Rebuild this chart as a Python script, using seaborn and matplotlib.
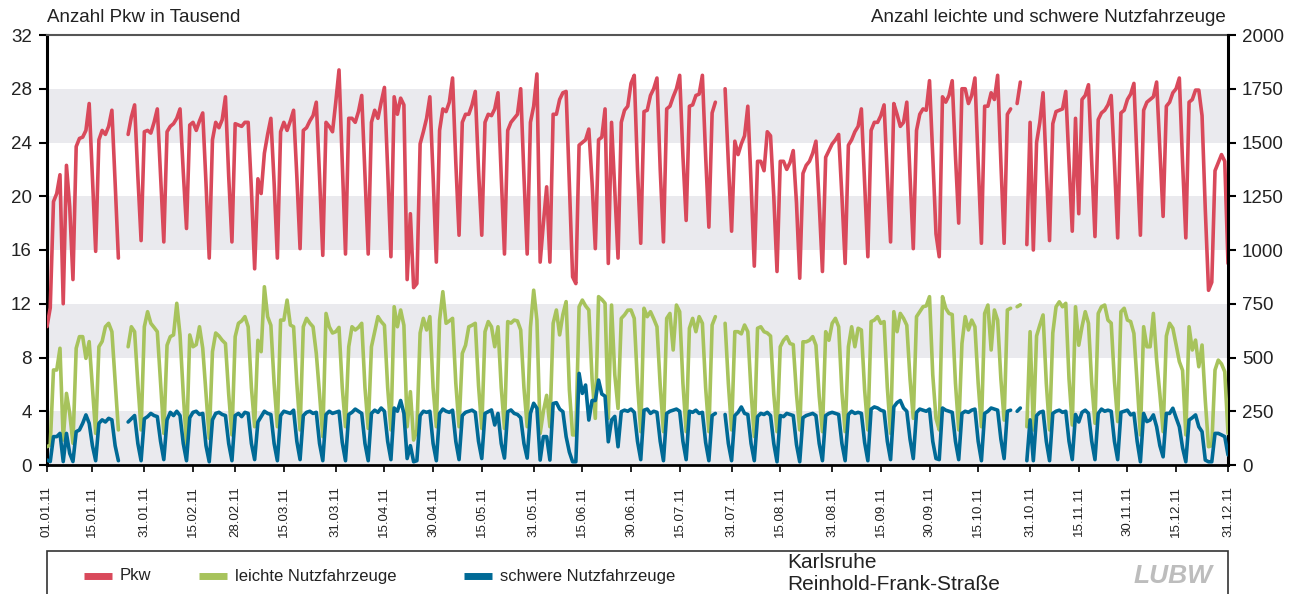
import numpy as np
import pandas as pd
import matplotlib
matplotlib.use("Agg")
import matplotlib.pyplot as plt
import seaborn as sns
from matplotlib.lines import Line2D
from matplotlib.patches import Rectangle

nan = np.nan

# ---------------- data (daily values 2011, weeks Mon..Sun) ----------------
start_date = "2011-01-01"

# Pkw in Tausend (left axis)
pkw = [
    10.3, 11.7,
    19.6, 20.2, 21.6, 12.0, 22.3, 19.2, 13.8,
    23.7, 24.3, 24.4, 24.9, 26.9, 21.4, 15.9,
    24.2, 24.9, 24.6, 25.2, 26.4, 21.0, 15.4,
    nan, nan, 24.6, 25.9, 26.8, 21.5, 16.7,
    24.8, 24.9, 24.7, 25.5, 26.5, 21.5, 16.6,
    24.8, 25.2, 25.4, 25.8, 26.5, 21.8, 17.6,
    25.3, 25.5, 24.9, 25.6, 26.2, 21.0, 15.4,
    24.2, 25.5, 25.1, 25.7, 27.4, 21.5, 16.6,
    25.4, 25.3, 25.2, 25.5, 25.5, 20.5, 14.6,
    21.3, 20.2, 23.2, 24.6, 25.8, 21.0, 15.4,
    24.8, 25.5, 24.9, 25.6, 26.4, 21.5, 16.1,
    24.9, 25.1, 25.6, 26.0, 27.0, 21.5, 15.6,
    25.5, 25.2, 24.8, 27.0, 29.4, 22.5, 15.7,
    25.8, 25.8, 25.5, 26.3, 27.5, 21.5, 15.7,
    25.5, 26.4, 25.8, 27.0, 28.1, 22.0, 15.5,
    27.4, 26.1, 27.3, 26.8, 13.8, 18.7, 13.2,
    13.5, 23.9, 24.8, 25.8, 27.4, 21.5, 15.1,
    24.9, 26.5, 26.3, 27.0, 28.8, 22.5, 17.1,
    25.5, 26.1, 26.1, 26.8, 27.8, 22.0, 17.1,
    25.5, 26.1, 26.0, 26.5, 27.7, 21.5, 15.7,
    24.9, 25.5, 25.8, 26.1, 28.0, 21.5, 15.7,
    25.5, 26.7, 29.1, 15.1, 18.0, 20.7, 15.1,
    26.1, 26.1, 27.2, 27.7, 27.8, 21.0, 14.0,
    13.5, 23.8, 24.0, 24.2, 25.0, 21.0, 16.1,
    24.2, 24.4, 26.5, 15.0, 25.5, 20.5, 15.4,
    25.5, 26.4, 26.7, 28.4, 29.0, 22.0, 16.5,
    26.3, 26.4, 27.5, 28.0, 28.8, 22.0, 16.6,
    26.5, 26.7, 27.4, 28.0, 29.0, 23.0, 18.2,
    26.7, 26.8, 27.5, 27.6, 29.0, 23.0, 17.7,
    26.2, 27.0, nan, nan, 28.0, 22.5, 17.4,
    24.1, 23.1, 23.9, 24.5, 26.7, 21.0, 14.8,
    22.6, 22.6, 21.9, 24.8, 24.5, 20.0, 14.4,
    22.6, 22.6, 22.0, 22.5, 23.4, 19.5, 13.9,
    21.7, 22.3, 22.6, 23.2, 24.1, 19.5, 14.4,
    22.9, 23.4, 23.9, 24.2, 24.6, 20.0, 15.0,
    23.8, 24.2, 24.8, 25.2, 26.5, 21.0, 15.5,
    24.9, 25.5, 25.5, 26.0, 26.8, 21.5, 16.6,
    26.9, 26.1, 25.2, 25.5, 27.0, 21.5, 16.1,
    24.9, 26.1, 26.5, 26.4, 28.6, 23.0, 17.2,
    15.5, 27.4, 27.0, 27.5, 28.6, 23.0, 18.0,
    28.0, 28.0, 26.9, 27.5, 28.8, 22.5, 16.5,
    26.7, 26.7, 27.7, 27.2, 29.0, 22.5, 16.5,
    26.1, 26.5, nan, 26.9, 28.5, nan, 16.4,
    25.5, 16.0, 24.0, 25.5, 27.7, 22.0, 16.7,
    25.4, 26.3, 26.4, 26.5, 27.8, 22.5, 17.4,
    25.8, 18.7, 27.2, 27.5, 28.3, 22.5, 17.0,
    25.7, 26.2, 26.4, 26.8, 27.5, 22.5, 16.9,
    26.2, 26.4, 27.2, 27.6, 28.4, 22.5, 17.1,
    26.4, 27.0, 27.2, 27.4, 28.5, 23.5, 18.5,
    26.7, 27.0, 27.7, 28.0, 28.8, 22.5, 16.9,
    27.0, 27.2, 27.9, 27.9, 26.0, 19.0, 13.0,
    13.6, 21.9, 22.5, 23.1, 22.6, 15.0,
]

# leichte Nutzfahrzeuge (right axis)
lnf = [
    85, 93,
    442, 442, 543, 116, 333, 240, 101,
    543, 597, 597, 496, 574, 360, 147,
    550, 575, 643, 659, 620, 390, 163,
    nan, nan, 550, 643, 620, 380, 163,
    643, 713, 659, 640, 620, 380, 147,
    557, 597, 605, 752, 605, 330, 95,
    605, 550, 560, 643, 543, 330, 124,
    527, 614, 600, 580, 565, 330, 140,
    597, 659, 670, 690, 643, 360, 178,
    580, 527, 829, 690, 650, 380, 178,
    674, 674, 767, 651, 643, 380, 163,
    643, 682, 660, 643, 519, 330, 132,
    705, 643, 614, 620, 640, 360, 178,
    550, 643, 628, 640, 659, 360, 170,
    550, 620, 690, 667, 650, 360, 163,
    736, 643, 721, 650, 178, 341, 116,
    163, 614, 682, 628, 690, 360, 178,
    674, 806, 659, 670, 682, 380, 178,
    519, 557, 643, 650, 659, 370, 170,
    620, 667, 643, 550, 643, 360, 170,
    667, 660, 674, 670, 628, 360, 178,
    640, 813, 674, 147, 250, 324, 178,
    659, 721, 605, 700, 760, 350, 140,
    140, 736, 767, 740, 721, 400, 217,
    783, 770, 752, 217, 744, 420, 263,
    682, 698, 720, 721, 682, 380, 155,
    729, 690, 713, 680, 643, 370, 155,
    682, 705, 535, 744, 713, 380, 155,
    636, 682, 620, 690, 659, 360, 155,
    651, 690, nan, nan, 659, 380, 163,
    620, 620, 610, 651, 620, 340, 132,
    636, 643, 620, 614, 600, 330, 155,
    550, 580, 597, 565, 560, 330, 163,
    573, 573, 580, 597, 557, 320, 155,
    620, 580, 659, 682, 643, 340, 155,
    550, 643, 550, 636, 628, 350, 163,
    667, 674, 690, 659, 667, 360, 147,
    713, 620, 705, 682, 650, 400, 217,
    690, 713, 736, 740, 783, 420, 217,
    163, 783, 729, 705, 700, 380, 163,
    565, 690, 628, 674, 643, 380, 178,
    705, 744, 535, 721, 674, 400, 209,
    721, 729, nan, 736, 745, nan, 178,
    620, 163, 600, 651, 698, 380, 163,
    614, 736, 759, 736, 752, 400, 186,
    736, 557, 643, 713, 659, 380, 194,
    705, 736, 744, 674, 660, 390, 202,
    713, 729, 674, 667, 612, 380, 140,
    643, 550, 550, 705, 488, 330, 155,
    600, 659, 636, 560, 481, 440, 140,
    643, 535, 581, 457, 558, 300, 85,
    90, 442, 488, 470, 434, 147,
]

# schwere Nutzfahrzeuge (right axis)
snf = [
    23, 16,
    132, 132, 147, 16, 147, 54, 16,
    155, 163, 194, 233, 194, 90, 20,
    194, 210, 200, 217, 210, 90, 20,
    nan, nan, 200, 215, 230, 100, 20,
    215, 225, 240, 230, 225, 110, 25,
    210, 245, 230, 250, 230, 100, 20,
    220, 245, 250, 235, 240, 90, 15,
    210, 240, 245, 235, 230, 100, 20,
    230, 240, 225, 245, 240, 100, 25,
    200, 225, 250, 240, 235, 100, 20,
    230, 250, 245, 240, 255, 110, 25,
    230, 245, 250, 240, 245, 100, 20,
    235, 250, 240, 245, 250, 105, 20,
    235, 245, 260, 250, 240, 100, 20,
    240, 255, 245, 265, 250, 110, 25,
    265, 250, 300, 240, 30, 90, 15,
    20, 230, 250, 245, 250, 100, 20,
    240, 260, 250, 245, 255, 110, 25,
    230, 245, 250, 255, 245, 110, 30,
    240, 248, 256, 186, 240, 100, 32,
    248, 256, 240, 235, 220, 100, 32,
    240, 287, 264, 23, 132, 132, 23,
    286, 290, 260, 248, 132, 60, 15,
    15, 426, 333, 372, 209, 300, 300,
    395, 330, 320, 108, 209, 226, 85,
    248, 255, 250, 260, 245, 110, 25,
    255, 260, 240, 250, 245, 110, 20,
    240, 250, 255, 260, 250, 110, 25,
    250, 245, 255, 240, 245, 105, 20,
    230, 240, nan, nan, 235, 100, 20,
    230, 245, 270, 240, 235, 100, 20,
    225, 240, 235, 245, 230, 100, 15,
    230, 225, 240, 235, 230, 95, 15,
    220, 230, 235, 240, 230, 100, 20,
    230, 240, 245, 240, 235, 100, 20,
    235, 250, 240, 245, 240, 105, 20,
    260, 270, 265, 255, 250, 110, 25,
    270, 290, 300, 265, 250, 120, 30,
    245, 260, 255, 250, 260, 110, 30,
    25, 265, 255, 250, 245, 110, 25,
    240, 250, 245, 255, 260, 110, 20,
    240, 250, 265, 260, 255, 120, 30,
    250, 255, nan, 250, 265, nan, 20,
    210, 20, 230, 245, 250, 110, 20,
    240, 250, 255, 245, 250, 110, 25,
    235, 200, 245, 255, 240, 110, 25,
    240, 260, 250, 255, 250, 110, 25,
    245, 250, 255, 233, 240, 110, 15,
    240, 202, 209, 233, 178, 90, 38,
    240, 240, 264, 220, 178, 80, 15,
    209, 220, 233, 178, 155, 23, 15,
    15, 147, 147, 140, 132, 47,
]

tick_labels = ["01.01.11", "15.01.11", "31.01.11", "15.02.11", "28.02.11", "15.03.11",
               "31.03.11", "15.04.11", "30.04.11", "15.05.11", "31.05.11", "15.06.11",
               "30.06.11", "15.07.11", "31.07.11", "15.08.11", "31.08.11", "15.09.11",
               "30.09.11", "15.10.11", "31.10.11", "15.11.11", "30.11.11", "15.12.11",
               "31.12.11"]
left_ticks = [0, 4, 8, 12, 16, 20, 24, 28, 32]
right_ticks = [0, 250, 500, 750, 1000, 1250, 1500, 1750, 2000]
bands = [(0, 4), (8, 12), (16, 20), (24, 28)]
series_names = ["Pkw", "leichte Nutzfahrzeuge", "schwere Nutzfahrzeuge"]
colors = ["#D9495B", "#A7C35C", "#006A96"]
left_title = "Anzahl Pkw in Tausend"
right_title = "Anzahl leichte und schwere Nutzfahrzeuge"
station = ["Karlsruhe", "Reinhold-Frank-Straße"]

# ---------------- styling ----------------
sns.set_theme(style="white")
plt.rcParams["font.family"] = ["Liberation Sans", "DejaVu Sans"]

W, H = 1301, 594
fig = plt.figure(figsize=(W / 100, H / 100), dpi=100)
ax = fig.add_axes([47 / W, 1 - 465 / H, 1181 / W, 430 / H])
ax2 = ax.twinx()


def make_df(values):
    v = pd.Series(values, dtype=float)
    d = pd.DataFrame({"date": pd.date_range(start_date, periods=len(v), freq="D"),
                      "value": v, "seg": v.isna().cumsum()})
    return d.dropna()


for lo, hi in bands:
    ax.axhspan(lo, hi, color="#EAEAEE", lw=0, zorder=0)

sns.lineplot(data=make_df(pkw), x="date", y="value", units="seg", estimator=None,
             color=colors[0], lw=2.6, ax=ax, legend=False, zorder=3)
sns.lineplot(data=make_df(lnf), x="date", y="value", units="seg", estimator=None,
             color=colors[1], lw=2.6, ax=ax2, legend=False, zorder=3)
sns.lineplot(data=make_df(snf), x="date", y="value", units="seg", estimator=None,
             color=colors[2], lw=2.6, ax=ax2, legend=False, zorder=4)

dates = pd.date_range(start_date, periods=len(pkw), freq="D")
ax.set_xlim(dates[0], dates[-1])
ax.set_ylim(0, 32)
ax2.set_ylim(0, 2000)
ax.set_xlabel("")
ax.set_ylabel("")
ax2.set_xlabel("")
ax2.set_ylabel("")

tick_dates = pd.to_datetime(tick_labels, format="%d.%m.%y")
ax.set_xticks(tick_dates)
ax.set_xticklabels(tick_labels, rotation=90, va="top", ha="center")
ax.set_yticks(left_ticks)
ax.set_yticklabels([str(t) for t in left_ticks])
ax2.set_yticks(right_ticks)
ax2.set_yticklabels([str(t) for t in right_ticks])

ax.tick_params(axis="x", direction="out", length=5, width=1.2, colors="black",
               labelsize=9.5, pad=10, bottom=True)
ax.tick_params(axis="y", direction="out", length=6, width=1.5, colors="black",
               labelsize=13.5, pad=5, left=True)
ax2.tick_params(axis="y", direction="out", length=6, width=1.5, colors="black",
                labelsize=13.5, pad=4, right=True)
for lab in ax.get_yticklabels() + ax2.get_yticklabels() + ax.get_xticklabels():
    lab.set_color("#222222")

for a in (ax, ax2):
    for s in a.spines.values():
        s.set_visible(False)
ax.spines["left"].set_visible(True)
ax.spines["left"].set_linewidth(2.2)
ax.spines["left"].set_color("black")
ax.spines["bottom"].set_visible(True)
ax.spines["bottom"].set_linewidth(2.0)
ax.spines["bottom"].set_color("black")
ax.spines["top"].set_visible(True)
ax.spines["top"].set_linewidth(1.5)
ax.spines["top"].set_color("#555555")
ax2.spines["right"].set_visible(True)
ax2.spines["right"].set_linewidth(2.2)
ax2.spines["right"].set_color("black")
ax.set_zorder(1)
ax2.set_zorder(2)
ax2.patch.set_visible(False)

# titles above axes
fig.text(47 / W, 1 - 18 / H, left_title, ha="left", va="center", fontsize=13.5, color="#222222")
fig.text(1226 / W, 1 - 18 / H, right_title, ha="right", va="center", fontsize=13.5, color="#222222")

# legend box
box = Rectangle((47 / W, -0.05), 1181 / W, 0.05 + (1 - 551 / H), transform=fig.transFigure,
                fill=False, ec="#333333", lw=1.2, clip_on=False)
fig.add_artist(box)
ly = 1 - 576 / H
legend_pos = [(84, 112, 120), (199, 227, 235), (464, 492, 500)]
for (x0, x1, tx), c, name in zip(legend_pos, colors, series_names):
    fig.add_artist(Line2D([x0 / W, x1 / W], [ly, ly], transform=fig.transFigure,
                          color=c, lw=5, solid_capstyle="butt"))
    fig.text(tx / W, ly, name, ha="left", va="center", fontsize=12, color="#222222")

fig.text(787 / W, 1 - 563 / H, station[0], ha="left", va="center", fontsize=15, color="#222222")
fig.text(787 / W, 1 - 585 / H, station[1], ha="left", va="center", fontsize=15, color="#222222")
fig.text(1173 / W, ly, "LUBW", ha="center", va="center", fontsize=19, color="#BDBDBD",
         style="italic", weight="bold")

fig.savefig("out.png", dpi=100)
